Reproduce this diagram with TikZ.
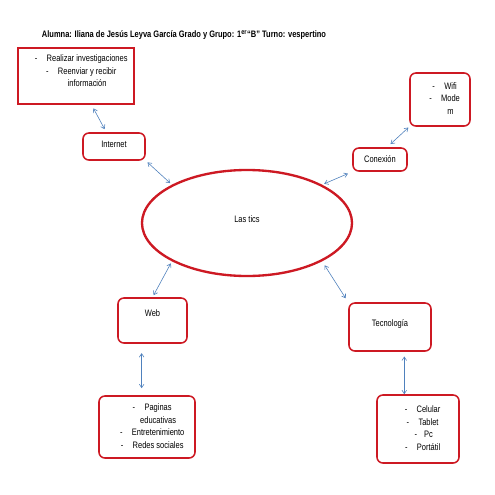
\documentclass[tikz,border=0pt]{standalone}
\usepackage{fontspec}
\setmainfont{Liberation Sans}[FakeStretch=0.8]
\usetikzlibrary{arrows.meta, shapes.geometric}

\definecolor{rojo}{RGB}{205,25,35}
\definecolor{azul}{RGB}{79,129,189}

\tikzset{
    caja/.style={draw=rojo, line width=1.3pt, rounded corners=5pt, fill=white, align=center, inner sep=1pt},
    flecha/.style={azul, line width=0.5pt, {Straight Barb[length=3pt,width=4pt]}-{Straight Barb[length=3pt,width=4pt]}, shorten <=2pt, shorten >=2pt}
}

\begin{document}
\begin{tikzpicture}[x=0.03cm, y=-0.03cm, font=\fontsize{8}{10.6}\selectfont]
    % Background
    \fill[white] (0,0) rectangle (495,495);

    % Title
    \node[font=\fontsize{8}{10}\selectfont\bfseries] (titulo) at (184,35)
        {Alumna: Iliana de Jesús Leyva García Grado y Grupo: 1\textsuperscript{er}“B” Turno: vespertino};

    % Draw nodes
    \node[draw=rojo, line width=2pt, ellipse, minimum width=6.3cm, minimum height=3.18cm, text depth=7pt] (lastics) at (247,223) {Las tics};
    \node[caja, sharp corners, minimum width=3.48cm, minimum height=1.68cm] (usos) at (76,76)
        {\begin{tabular}{@{\hspace{19pt}}c@{}}
            \llap{-\hspace{8pt}}Realizar investigaciones\\
            \llap{-\hspace{8pt}}Reenviar y recibir\\
            información\\[7.6pt]
        \end{tabular}};
    \node[caja, minimum width=1.86cm, minimum height=0.81cm, text depth=4.5pt] (internet) at (114,146.5) {Internet};
    \node[caja, minimum width=1.62cm, minimum height=0.69cm] (conexion) at (380,159.5) {Conexión};
    \node[caja, minimum width=1.8cm, minimum height=1.59cm] (wifi) at (440,99.5)
        {\begin{tabular}{@{\hspace{18pt}}c@{}}
            \llap{-\hspace{8pt}}Wifi\\
            \llap{-\hspace{8pt}}Mode\\
            m
        \end{tabular}};
    \node[caja, minimum width=2.07cm, minimum height=1.35cm, text depth=13pt] (web) at (152.5,320.5) {Web};
    \node[caja, minimum width=2.88cm, minimum height=1.86cm] (webitems) at (147,427)
        {\begin{tabular}{@{\hspace{19pt}}c@{}}
            \llap{-\hspace{8pt}}Paginas\\
            educativas\\
            \llap{-\hspace{8pt}}Entretenimiento\\
            \llap{-\hspace{8pt}}Redes sociales
        \end{tabular}};
    \node[caja, minimum width=2.46cm, minimum height=1.44cm, text depth=7pt] (tecnologia) at (390,327) {Tecnología};
    \node[caja, minimum width=2.46cm, minimum height=2.04cm] (tecitems) at (418,429)
        {\begin{tabular}{@{\hspace{18pt}}c@{}}
            \llap{-\hspace{8pt}}Celular\\
            \llap{-\hspace{8pt}}Tablet\\
            \llap{-\hspace{6pt}}Pc\\
            \llap{-\hspace{8pt}}Portátil
        \end{tabular}};

    % Draw connections
    \draw[flecha, shorten <=3.5pt, shorten >=3pt] (usos) -- (internet);
    \draw[flecha] (internet.south east) -- (lastics.north west);
    \draw[flecha, shorten >=4pt] (lastics.north east) -- (conexion.south west);
    \draw[flecha, shorten <=4pt, shorten >=1pt] (conexion.60) -- (wifi.south west);
    \draw[flecha] (lastics.south west) -- (web.north);
    \draw[flecha, shorten <=8pt, shorten >=6pt] (web.-115) -- (web.-115 |- webitems.north);
    \draw[flecha, shorten <=4pt, shorten >=4pt] (lastics.south east) -- (tecnologia.north west);
    \draw[flecha, shorten <=4pt, shorten >=0pt] (tecnologia.-60) -- (tecnologia.-60 |- tecitems.north);
\end{tikzpicture}
\end{document}
